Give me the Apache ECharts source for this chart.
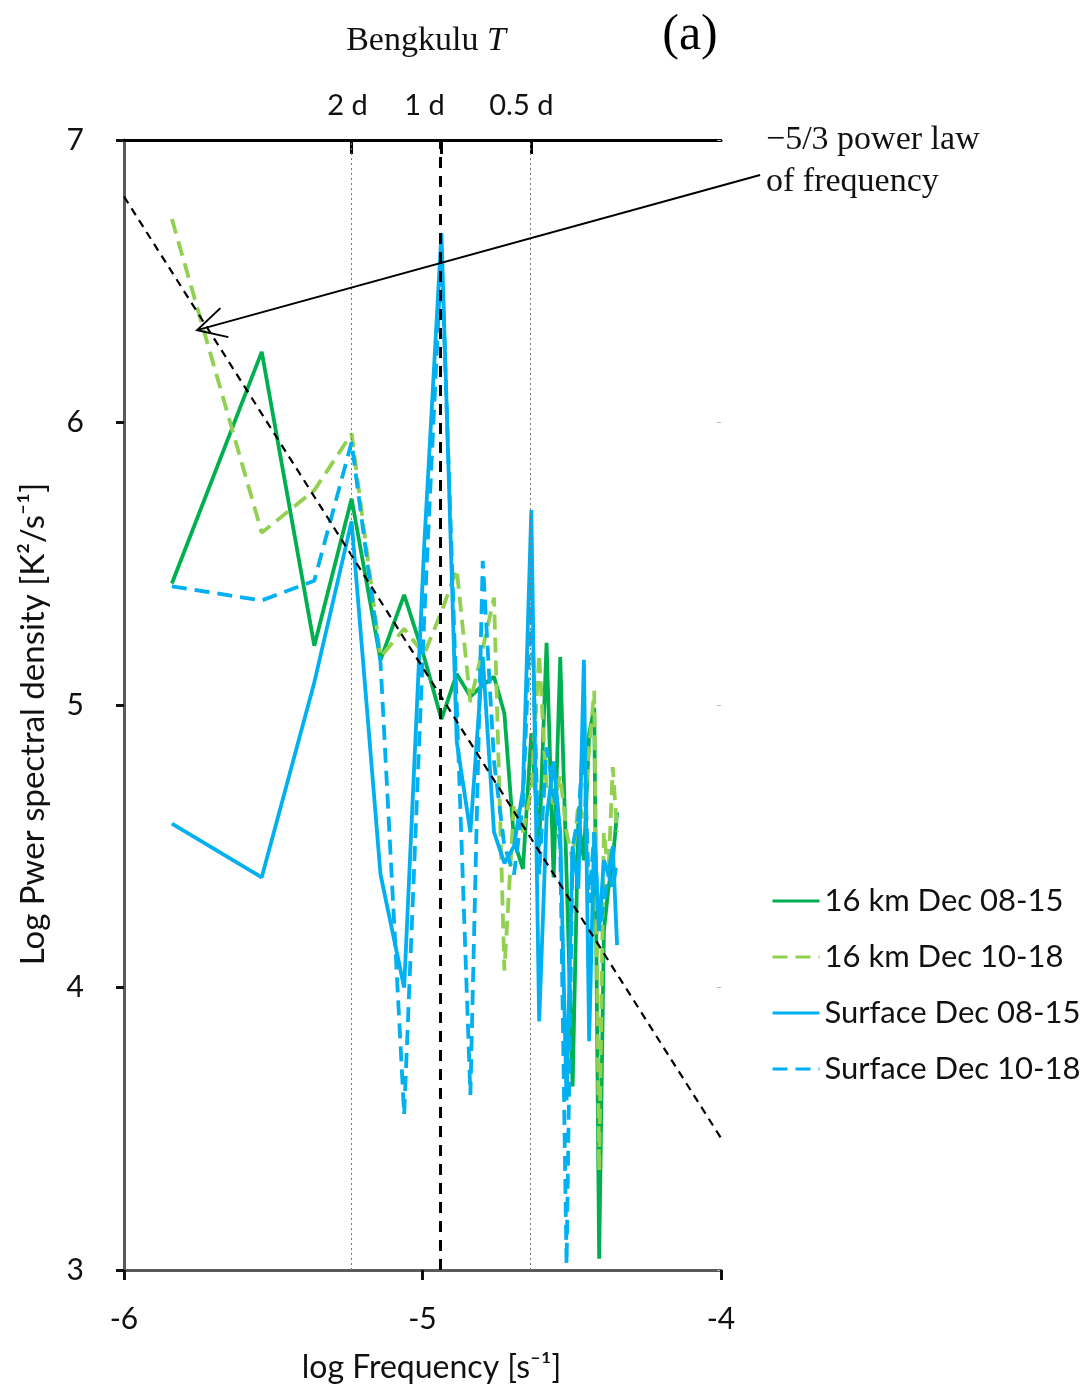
<!DOCTYPE html>
<html><head><meta charset="utf-8">
<script src="https://cdn.jsdelivr.net/npm/echarts@6/dist/echarts.min.js"></script>
<style>html,body{margin:0;padding:0;background:#fff}#c{width:1086px;height:1390px}</style>
</head><body><div id="c"></div>
<script>
// ---- data ----
const recordDays = 8;                       // spectral resolution: 1/(8 days)
const harmonics = [1,2,3,4,5,6,7,8,9,10,11,12,13,14,15,16,17,18,19,20,21,22,23,24,25,26,27,28,29,30,31];
const seriesNames = ['16 km Dec 08-15', '16 km Dec 10-18', 'Surface Dec 08-15', 'Surface Dec 10-18'];
const psd16kmA = [5.43,6.25,5.21,5.73,5.16,5.39,5.17,4.95,5.11,5.03,5.07,5.10,4.97,4.52,4.42,4.90,4.50,5.22,4.39,5.17,4.40,3.65,4.60,4.45,4.90,4.99,3.04,4.20,4.35,4.45,4.62];
const psd16kmB = [6.72,5.61,5.76,5.96,5.17,5.27,5.18,5.33,5.48,5.01,5.20,5.38,4.06,4.65,4.55,4.70,5.18,4.70,4.65,4.75,4.55,4.45,4.65,4.60,4.85,5.05,3.35,4.55,4.40,4.78,4.55];
const psdSurfA = [4.58,4.39,5.08,5.65,4.40,4.00,5.56,6.67,4.87,4.55,5.17,4.55,4.44,4.50,4.70,5.69,3.88,4.60,4.80,4.55,3.60,4.50,4.35,5.16,3.81,4.55,4.20,4.45,4.40,4.50,4.15];
const psdSurfB = [5.42,5.37,5.44,5.93,5.15,3.55,5.30,6.60,5.00,3.62,5.51,4.80,4.50,4.40,4.65,5.40,4.40,4.85,4.70,4.50,3.02,4.50,4.60,4.90,4.30,4.55,4.20,4.30,4.40,4.35,4.45];
const powerLawX = [-6, -4];                 // -5/3 power law reference line end points
const powerLawY = [6.80, 3.467];
const periodDays = [2, 1, 0.5];
const periodLabels = ['2 d', '1 d', '0.5 d'];
const xTicks = [-6, -5, -4];
const yTicks = [3, 4, 5, 6, 7];
const arrowTail = [-3.869, 6.876];
const arrowHead = [-5.755, 6.327];

// ---- build ----
const logF = harmonics.map(k => Math.log10(k / (recordDays * 86400)));
const periodX = periodDays.map(d => -Math.log10(d * 86400));
const pairs = arr => arr.map((v, i) => [logF[i], v]);

const cGreen = '#00B050', cLight = '#92D050', cBlue = '#00B0F0';
const sans = 'Lato', serif = 'Liberation Serif';

const chart = echarts.init(document.getElementById('c'), null, {renderer: 'canvas'});

function lineSeries(name, arr, color, dashed) {
  return {
    name, type: 'line', data: pairs(arr), symbol: 'none', showSymbol: false,
    xAxisIndex: 0, yAxisIndex: 0, z: 3,
    lineStyle: {color, width: 3.8, type: dashed ? [15, 8] : 'solid'},
    itemStyle: {color}, animation: false
  };
}

const periodRich = {
  p0: {fontFamily: sans, fontSize: 29, color: '#111', padding: [0, 8, 0, 0]},
  p1: {fontFamily: sans, fontSize: 29, color: '#111', padding: [0, 34, 0, 0]},
  p2: {fontFamily: sans, fontSize: 29, color: '#111', padding: [0, 20, 0, 0]}
};

const option = {
  animation: false,
  backgroundColor: '#fff',
  grid: {left: 124, right: 365, top: 140, bottom: 120, containLabel: false},
  xAxis: [{
    type: 'value', min: -6, max: -4, interval: 1, position: 'bottom',
    name: 'log Frequency [s\u207B\u00B9]', nameLocation: 'middle', nameGap: 82,
    nameTextStyle: {fontFamily: sans, fontSize: 32, color: '#111', padding: [0, 0, 0, 18]},
    axisLine: {show: true, onZero: false, lineStyle: {color: '#595959', width: 3}},
    axisTick: {show: true, inside: false, length: 10, lineStyle: {color: '#111', width: 3}},
    axisLabel: {fontFamily: sans, fontSize: 30, color: '#111', margin: 34,
      formatter: v => xTicks.includes(v) ? String(v) : ''},
    splitLine: {show: false}
  }, {
    type: 'value', min: -6, max: -4, position: 'top',
    axisLine: {show: true, onZero: false, lineStyle: {color: '#000', width: 3}},
    axisTick: {show: true, inside: true, length: 14, customValues: periodX, lineStyle: {color: '#000', width: 3}},
    axisLabel: {show: true, customValues: periodX, margin: 20, rich: periodRich,
      formatter: v => { let b = 0; periodX.forEach((p, i) => { if (Math.abs(p - v) < Math.abs(periodX[b] - v)) b = i; }); return '{p' + b + '|' + periodLabels[b] + '}'; }},
    splitLine: {show: false}
  }],
  yAxis: [{
    type: 'value', min: 3, max: 7, interval: 1, position: 'left',
    axisLine: {show: true, onZero: false, lineStyle: {color: '#595959', width: 3}},
    axisTick: {show: true, inside: false, length: 8, lineStyle: {color: '#111', width: 3}},
    axisLabel: {fontFamily: sans, fontSize: 30, color: '#111', margin: 40,
      formatter: v => yTicks.includes(v) ? String(v) : ''},
    splitLine: {show: false}
  }, {
    type: 'value', min: 3, max: 7, interval: 1, position: 'right',
    axisLine: {show: false},
    axisTick: {show: true, inside: true, length: 4, lineStyle: {color: '#bbb', width: 1}},
    axisLabel: {show: false}, splitLine: {show: false}
  }],
  legend: {
    orient: 'vertical', left: 766, top: 879, itemWidth: 47, itemHeight: 20, itemGap: 22, itemTextGap: 4,
    data: seriesNames,
    itemStyle: {opacity: 0},
    lineStyle: {width: 3},
    textStyle: {fontFamily: sans, fontSize: 31, color: '#111', lineHeight: 34}
  },
  series: [
    lineSeries(seriesNames[0], psd16kmA, cGreen, false),
    lineSeries(seriesNames[1], psd16kmB, cLight, true),
    lineSeries(seriesNames[2], psdSurfA, cBlue, false),
    lineSeries(seriesNames[3], psdSurfB, cBlue, true),
    {
      name: 'power law', type: 'line', data: powerLawX.map((x, i) => [x, powerLawY[i]]),
      symbol: 'none', z: 4, lineStyle: {color: '#000', width: 2.2, type: [8, 6]}, animation: false
    },
    {
      name: 'periods', type: 'line', data: [], z: 5, animation: false,
      markLine: {
        silent: true, symbol: 'none', label: {show: false}, animation: false,
        data: periodX.map((x, i) => ({
          xAxis: x,
          lineStyle: i === 1 ? {color: '#000', width: 3, type: [11, 8]} : {color: '#777', width: 1, type: [2, 3]}
        }))
      }
    }
  ]
};
chart.setOption(option);

// annotations
const t = chart.convertToPixel({xAxisIndex: 0, yAxisIndex: 0}, arrowTail);
const h = chart.convertToPixel({xAxisIndex: 0, yAxisIndex: 0}, arrowHead);
const ang = Math.atan2(t[1] - h[1], t[0] - h[0]);
const arm = 32, spread = 28 * Math.PI / 180;
const a1 = [h[0] + arm * Math.cos(ang - spread), h[1] + arm * Math.sin(ang - spread)];
const a2 = [h[0] + arm * Math.cos(ang + spread), h[1] + arm * Math.sin(ang + spread)];

chart.setOption({
  graphic: [
    {type: 'text', x: 426, y: 41, style: {
      text: '{a|Bengkulu }{b|T}', align: 'center', verticalAlign: 'middle',
      rich: {a: {fontFamily: serif, fontSize: 34, fill: '#111'}, b: {fontFamily: serif, fontSize: 34, fontStyle: 'italic', fill: '#111'}}
    }},
    {type: 'text', x: 690, y: 36, style: {
      text: '(a)', align: 'center', verticalAlign: 'middle',
      fontFamily: 'Liberation Sans Narrow', fontSize: 50, fill: '#000'
    }},
    {type: 'text', x: 766, y: 140, style: {
      text: '\u22125/3 power law', align: 'left', verticalAlign: 'middle',
      fontFamily: serif, fontSize: 34, fill: '#111'
    }},
    {type: 'text', x: 766, y: 182, style: {
      text: 'of frequency', align: 'left', verticalAlign: 'middle',
      fontFamily: serif, fontSize: 34, fill: '#111'
    }},
    {type: 'text', x: 33, y: 724, rotation: Math.PI / 2, style: {
      text: 'Log Pwer spectral density [K\u00B2/s\u207B\u00B9]', align: 'center', verticalAlign: 'middle',
      fontFamily: sans, fontSize: 33, fill: '#111'
    }},
    {type: 'line', z: 10, shape: {x1: t[0], y1: t[1], x2: h[0], y2: h[1]}, style: {stroke: '#000', lineWidth: 2}},
    {type: 'polyline', z: 10, shape: {points: [a1, h, a2]}, style: {stroke: '#000', lineWidth: 2, fill: null}}
  ]
});
</script>
</body></html>
